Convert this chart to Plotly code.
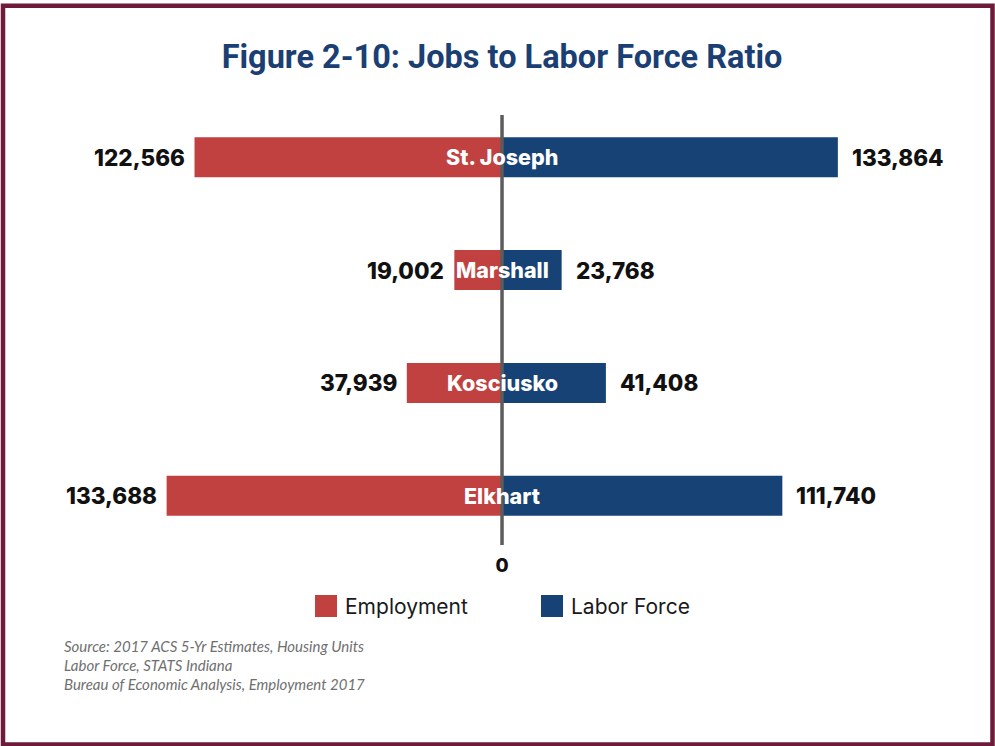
import plotly.graph_objects as go

# Counties (bottom to top) and their job / labor force counts
counties = ["Elkhart", "Kosciusko", "Marshall", "St. Joseph"]
employment = [133688, 37939, 19002, 122566]
labor_force = [111740, 41408, 23768, 133864]

series_names = ["Employment", "Labor Force"]
source_lines = [
    "Source: 2017 ACS 5-Yr Estimates, Housing Units",
    "Labor Force, STATS Indiana",
    "Bureau of Economic Analysis, Employment 2017",
]
title_text = "Figure 2-10: Jobs to Labor Force Ratio"

W, H = 995, 746
RED = "#C04140"
BLUE = "#174276"
NAVY = "#1B3F73"
MAROON = "#6E1A3A"
BOLD = "Inter, Roboto, sans-serif"


def px_x(p):
    return p / W


def px_y(p):
    return 1 - p / H


fig = go.Figure()

# Employment extends to the left of zero, labor force to the right
fig.add_trace(go.Bar(
    y=counties, x=[-v for v in employment], orientation="h",
    name=series_names[0], marker=dict(color=RED, line=dict(width=0)),
    width=0.355, hoverinfo="skip",
))
fig.add_trace(go.Bar(
    y=counties, x=labor_force, orientation="h",
    name=series_names[1], marker=dict(color=BLUE, line=dict(width=0)),
    width=0.355, hoverinfo="skip",
))

value_font = dict(family=BOLD, size=22.5, color="#111111", weight=800)
annotations = []
for c, e, l in zip(counties, employment, labor_force):
    annotations.append(dict(x=-e, y=c, xref="x", yref="y", text=f"{e:,}",
                            xanchor="right", yanchor="middle", xshift=-8,
                            showarrow=False, font=value_font))
    annotations.append(dict(x=l, y=c, xref="x", yref="y", text=f"{l:,}",
                            xanchor="left", yanchor="middle", xshift=12,
                            showarrow=False, font=value_font))
    annotations.append(dict(x=0, y=c, xref="x", yref="y", text=c,
                            xanchor="center", yanchor="middle", showarrow=False,
                            font=dict(family=BOLD, size=21.5, color="white", weight=800)))

# Custom legend entries
legend_items = [(series_names[0], RED, 315), (series_names[1], BLUE, 541)]
shapes = []
for name, color, left in legend_items:
    shapes.append(dict(type="rect", xref="paper", yref="paper",
                       x0=px_x(left), x1=px_x(left + 22),
                       y0=px_y(617), y1=px_y(595),
                       fillcolor=color, line=dict(width=0)))
    annotations.append(dict(x=px_x(left + 28), y=px_y(606), xref="paper", yref="paper",
                            text=name, xanchor="left", yanchor="middle", showarrow=False,
                            font=dict(family="Inter, sans-serif", size=21, color="#1a1a1a")))

# Source notes
for i, line in enumerate(source_lines):
    annotations.append(dict(x=px_x(62), y=px_y(646 + 19 * i), xref="paper", yref="paper",
                            text=line, xanchor="left", yanchor="middle", showarrow=False,
                            font=dict(family="Lato, sans-serif", size=15,
                                      color="#6f6f6f", style="italic")))

# Zero line drawn over the bars
shapes.append(dict(type="line", xref="x", yref="y domain", x0=0, x1=0, y0=0, y1=1,
                   line=dict(color="#5c5c5c", width=3.5), layer="above"))

# Frame around the whole figure
shapes.append(dict(type="rect", xref="paper", yref="paper",
                   x0=px_x(3), x1=px_x(992.5), y0=px_y(744.5), y1=px_y(5.7),
                   line=dict(color=MAROON, width=4.5), fillcolor="rgba(0,0,0,0)"))

fig.update_layout(
    width=W, height=H,
    margin=dict(l=0, r=0, t=0, b=0),
    paper_bgcolor="white", plot_bgcolor="white",
    barmode="overlay", showlegend=False,
    title=dict(text=title_text, x=px_x(502), y=px_y(57), xanchor="center", yanchor="middle",
               xref="paper", yref="paper",
               font=dict(family="Roboto, sans-serif", size=32.5, color=NAVY, weight="bold")),
    xaxis=dict(domain=[0, 1], range=[-200100, 196500], showgrid=False, zeroline=False,
               showline=False, tickvals=[0], ticktext=["0"], ticks="",
               ticklabelstandoff=7,
               tickfont=dict(family=BOLD, size=19, color="#111111", weight=800),
               fixedrange=True),
    yaxis=dict(domain=[px_y(545), px_y(115)], range=[-0.437, 3.375],
               categoryorder="array", categoryarray=counties,
               showgrid=False, zeroline=False, showline=False, showticklabels=False,
               ticks="", fixedrange=True),
    shapes=shapes,
    annotations=annotations,
)

fig.write_html("out.html")
